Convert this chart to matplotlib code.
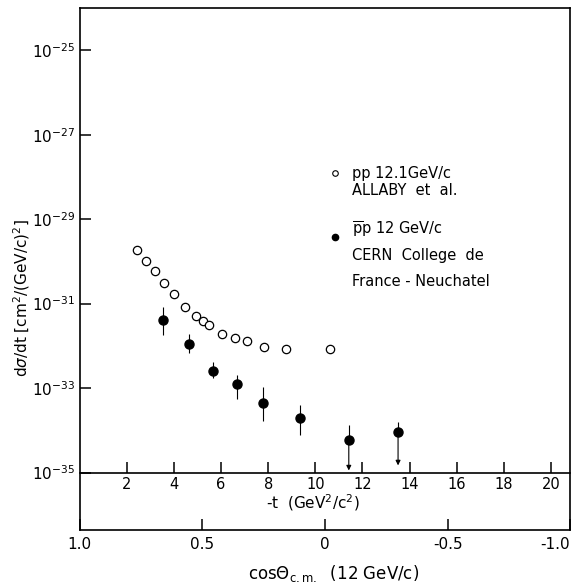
import numpy
import matplotlib
matplotlib.use('Agg')
import matplotlib.pyplot as plt

# pp 12.1 GeV/c (ALLABY et al.), open circles
pp_t = [2.42, 2.81, 3.20, 3.59, 4.02, 4.48, 4.95, 5.23, 5.50, 6.06,
        6.61, 7.10, 7.82, 8.74, 10.62]
pp_log_dsdt = [-29.72, -29.98, -30.23, -30.51, -30.77, -31.07, -31.30,
               -31.41, -31.51, -31.71, -31.82, -31.88, -32.02, -32.07,
               -32.07]

# pbar-p 12 GeV/c (CERN College de France - Neuchatel), filled circles
pbp_t = [3.55, 4.66, 5.68, 6.68, 7.76, 9.34, 11.42, 13.51]
pbp_log_dsdt = [-31.38, -31.95, -32.60, -32.90, -33.36, -33.70, -34.24,
                -34.05]
pbp_log_hi = [-31.08, -31.71, -32.39, -32.68, -32.98, -33.41, -33.87,
              -33.81]
pbp_log_lo = [-31.75, -32.17, -32.76, -33.25, -33.77, -34.12, -34.95,
              -34.83]
pbp_lower_open = [False, False, False, False, False, False, True, True]

# kinematics: -t at cos(theta) = -1 for 12 GeV/c
t_max = 20.82

y_tick_exps = [-25, -27, -29, -31, -33, -35]
t_ticks = [2, 4, 6, 8, 10, 12, 14, 16, 18, 20]
cos_ticks = [1.0, 0.5, 0.0, -0.5, -1.0]
cos_labels = ['1.0', '0.5', '0', '-0.5', '-1.0']


def t_to_cos(t):
    return 1.0 - 2.0 * numpy.asarray(t) / t_max


def cos_to_t(c):
    return (1.0 - numpy.asarray(c)) * t_max / 2.0


fig = plt.figure(figsize=(5.82, 5.85), dpi=100)
ax = fig.add_axes([0.1368, 0.0940, 0.9800 - 0.1368, 0.9863 - 0.0940])
ax.set_yscale('log')
ax.set_xlim(0, t_max)
ax.set_ylim(10 ** -36.36, 10 ** -24.0)

for sp in ax.spines.values():
    sp.set_linewidth(1.2)
ax.spines['bottom'].set_position(('data', 1e-35))

ax.set_yticks([10.0 ** e for e in y_tick_exps])
ax.set_yticklabels(['$10^{%d}$' % e for e in y_tick_exps], fontsize=11)
ax.yaxis.set_minor_locator(matplotlib.ticker.NullLocator())
ax.tick_params(axis='y', direction='in', length=8, width=1.1, pad=3)

ax.set_xticks(t_ticks)
ax.set_xticklabels([str(v) for v in t_ticks], fontsize=10.5)
ax.tick_params(axis='x', direction='in', length=8, width=1.1, pad=3)

sec = ax.secondary_xaxis('bottom', functions=(t_to_cos, cos_to_t))
sec.spines['bottom'].set_linewidth(1.2)
sec.set_xticks(cos_ticks)
sec.tick_params(axis='x', direction='in', length=8, width=1.1, pad=5)
sec.xaxis.set_minor_locator(matplotlib.ticker.NullLocator())
cos_texts = sec.set_xticklabels(cos_labels, fontsize=11)
cos_texts[-1].set_horizontalalignment('right')

# open circles
ax.plot(pp_t, 10.0 ** numpy.array(pp_log_dsdt), linestyle='none',
        marker='o', markersize=6, markerfacecolor='white',
        markeredgecolor='black', markeredgewidth=0.9, zorder=3)

# filled circles with error bars
y = 10.0 ** numpy.array(pbp_log_dsdt)
hi = 10.0 ** numpy.array(pbp_log_hi)
lo = 10.0 ** numpy.array(pbp_log_lo)
err_lo = numpy.where(pbp_lower_open, 0.0, y - lo)
ax.errorbar(pbp_t, y, yerr=[err_lo, hi - y], fmt='o', markersize=6.5,
            color='black', ecolor='black', elinewidth=0.8, capsize=0,
            zorder=3)
for t, yv, lv, is_open in zip(pbp_t, y, lo, pbp_lower_open):
    if is_open:
        ax.annotate('', xy=(t, lv), xytext=(t, yv),
                    arrowprops=dict(arrowstyle='-|>', lw=0.8, color='black',
                                    mutation_scale=7, shrinkA=0, shrinkB=0))

# key
ax.plot([0.5205], [0.6839], transform=ax.transAxes, marker='o',
        markersize=4, markerfacecolor='white', markeredgecolor='black',
        markeredgewidth=0.8, clip_on=False)
ax.plot([0.5205], [0.5619], transform=ax.transAxes, marker='o',
        markersize=4.5, color='black', clip_on=False)
key_lines = [('pp 12.1GeV/c', 0.6839), ('ALLABY  et  al.', 0.6513),
             (r'$\overline{\rm p}$p 12 GeV/c', 0.5747),
             ('CERN  College  de', 0.5268), ('France - Neuchatel', 0.4757)]
for txt, yy in key_lines:
    ax.text(0.5545, yy, txt, transform=ax.transAxes, fontsize=10.5,
            ha='left', va='center')

ax.text(0.4757, 0.0517, r'-t  (GeV$^2$/c$^2$)', transform=ax.transAxes,
        fontsize=11, ha='center', va='center')
fig.text(0.574, 0.0205, r'cos$\Theta_{\rm c.m.}$  (12 GeV/c)', fontsize=12,
         ha='center', va='center')
fig.text(0.038, 0.491, r'd$\sigma$/dt [cm$^2$/(GeV/c)$^2$]', fontsize=11,
         rotation=90, ha='center', va='center')

fig.savefig('out.png', dpi=100)
